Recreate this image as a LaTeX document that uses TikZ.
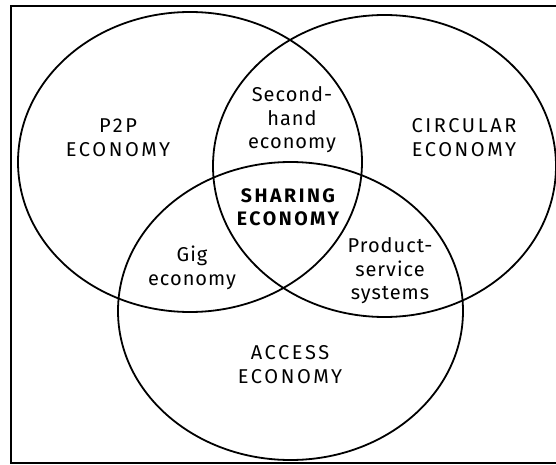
\documentclass[tikz,border=0pt]{standalone}
\usepackage{fontspec}
\setmainfont{Fira Sans}
\newfontfamily\capsfont{Fira Sans}[LetterSpace=13]
\newfontfamily\smallfont{Fira Sans}[LetterSpace=5]

\tikzset{
  setring/.style={line width=1.8pt},
  setname/.style={align=center, inner sep=0pt, font=\capsfont\fontsize{20}{24}\selectfont},
  overlap/.style={align=center, inner sep=0pt, font=\smallfont\fontsize{20}{23.5}\selectfont},
  core/.style={setname, font=\capsfont\bfseries\fontsize{19.5}{23}\selectfont}
}

\begin{document}
\begin{tikzpicture}[x=1pt, y=-1pt]
  \useasboundingbox (0,0) rectangle (556,465);

  % frame (right side runs off the page)
  \draw[line width=1.4pt] (560,6) -- (11,6) -- (11,463) -- (560,463);

  % the three sets
  \draw[setring] (190,162) ellipse [x radius=172pt, y radius=150pt];
  \draw[setring] (384.5,166) ellipse [x radius=171.5pt, y radius=151pt];
  \draw[setring] (290.5,311) ellipse [x radius=172.5pt, y radius=149pt];

  % set names
  \node[setname] (p2p) at (118,137.5) {P2P\\ECONOMY};
  \node[setname] (circular) at (464,137.5) {CIRCULAR\\ECONOMY};
  \node[setname] (access) at (290,365) {ACCESS\\ECONOMY};

  % overlaps
  \node[overlap] (secondhand) at (292,120) {Second-\\hand\\economy};
  \node[overlap] (gig) at (192,268) {Gig\\economy};
  \node[overlap] (pss) at (390,271) {Product-\\service\\systems};
  \node[core] (sharing) at (288,207.5) {SHARING\\ECONOMY};
\end{tikzpicture}
\end{document}
